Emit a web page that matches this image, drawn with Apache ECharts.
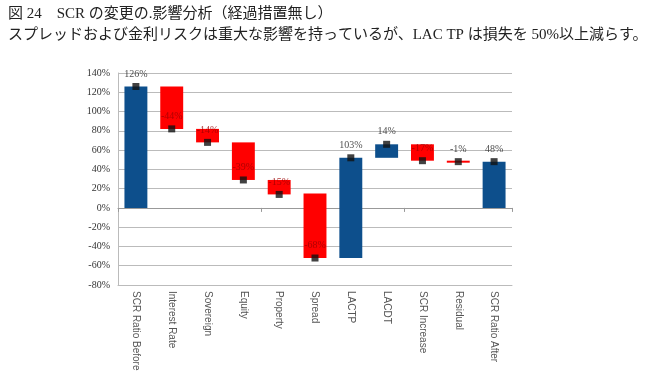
<!DOCTYPE html>
<html><head><meta charset="utf-8">
<script src="https://cdn.jsdelivr.net/npm/echarts@6/dist/echarts.min.js"></script>
<style>html,body{margin:0;padding:0;background:#fff}#c{width:651px;height:383px}</style>
</head><body><div id="c"></div>
<script>
const titleText = '図 24　SCR の変更の.影響分析（経過措置無し）';
const subtitleText = 'スプレッドおよび金利リスクは重大な影響を持っているが、LAC TP は損失を 50%以上減らす。';
const categories = ['SCR Ratio Before','Interest Rate','Sovereign','Equity','Property','Spread','LACTP','LACDT','SCR Increase','Residual','SCR Ratio After'];
const barStart = [0, 126, 82, 68, 29, 15, -52, 52, 66, 49, 0];
const barEnd   = [126, 82, 68, 29, 14, -52, 52, 66, 49, 48, 48];
const barKind  = ['total','down','down','down','down','down','up','up','down','down','total'];
const markerValues = [126, 82, 68, 29, 14, -52, 52, 66, 49, 48, 48];
const valueLabels = ['126%','-44%','-14%','-39%','-15%','-68%','103%','14%','-17%','-1%','48%'];
const yTicks = [-80, -60, -40, -20, 0, 20, 40, 60, 80, 100, 120, 140];

const BLUE = '#0d4f8c', RED = '#ff0000';
const chart = echarts.init(document.getElementById('c'));
const serif = '"Liberation Serif", "Noto Sans CJK JP", serif';
chart.setOption({
  animation: false,
  graphic: [
    {type:'text', left: 8, top: 7, style:{text: titleText, font: '15px ' + serif, fill:'#222'}},
    {type:'text', left: 8, top: 28, style:{text: subtitleText, font: '15px ' + serif, fill:'#222'}}
  ],
  grid: {left: 118, right: 139, top: 73, bottom: 98, containLabel: false},
  xAxis: [
    {type:'category', data: categories, position:'bottom',
     axisLine:{onZero:false, lineStyle:{color:'#bbb'}}, axisTick:{show:false},
     axisLabel:{rotate:-90, color:'#555', fontSize:10, fontFamily:'Liberation Sans, Arial, sans-serif', margin:6}},
    {type:'category', data: categories, position:'bottom',
     axisLine:{onZero:true, lineStyle:{color:'#999'}}, axisTick:{show:true, length:4, lineStyle:{color:'#999'}},
     axisLabel:{show:false}}
  ],
  yAxis: {type:'value', min: yTicks[0], max: yTicks[yTicks.length-1], interval: 20,
    axisLine:{show:true, lineStyle:{color:'#bbb'}}, axisTick:{show:false},
    splitLine:{lineStyle:{color:'#bbb'}},
    axisLabel:{formatter: v => v + '%', color:'#333', fontSize:10, fontFamily: serif, margin:8}},
  series: [
    {type:'custom', xAxisIndex:0,
     data: categories.map((c,i) => [i, barStart[i], barEnd[i]]),
     encode:{x:0, y:[1,2]},
     renderItem: (params, api) => {
       const i = api.value(0);
       const p1 = api.coord([i, api.value(1)]);
       const p2 = api.coord([i, api.value(2)]);
       const w = api.size([1,0])[0] * 0.64;
       let y = Math.min(p1[1], p2[1]);
       let h = Math.abs(p1[1] - p2[1]);
       if (h < 2) { h = 2; }
       return {type:'rect', shape:{x: p1[0] - w/2, y: y, width: w, height: h},
         style:{fill: barKind[i] === 'down' ? RED : BLUE}};
     }, z: 2},
    {type:'scatter', xAxisIndex:0, symbol:'rect', symbolSize:7,
     itemStyle:{color:'#111'}, z: 3,
     data: markerValues.map((v,i) => ({value:[i, v],
       label:{color: (barKind[i]==='down' && i!==9) ? '#9a0000' : '#222'}})),
     label:{show:true, position:'top', distance:4, fontSize:10, fontFamily: serif,
       formatter: p => valueLabels[p.dataIndex]}}
  ]
});
</script></body></html>
